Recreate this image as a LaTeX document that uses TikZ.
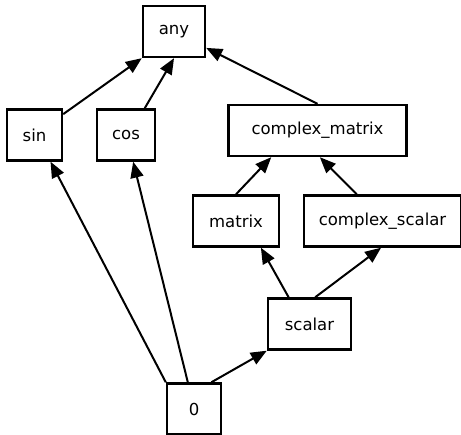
\documentclass[tikz,border=0pt]{standalone}
\usepackage{fontspec}
\setmainfont{DejaVu Sans}
\usepackage{tikz}
\usetikzlibrary{positioning,arrows.meta}
\tikzstyle{type} = [draw, rectangle, line width=2.4pt, inner sep=0pt, minimum height=51pt, font=\fontsize{16.5}{19}\selectfont]
\tikzstyle{isa} = [-{Triangle[length=16pt,width=13pt]}, line width=2pt]

\begin{document}
\begin{tikzpicture}[x=1pt, y=-1pt]
\useasboundingbox (0,0) rectangle (461,435);
\node (any) [type, minimum width=62pt] at (174,31.5) {any};
\node (sin) [type, minimum width=55pt] at (34.5,135) {sin};
\node (cos) [type, minimum width=58pt] at (126,135) {cos};
\node (cmat) [type, minimum width=178pt] at (317.5,130.5) {complex\_matrix};
\node (mat) [type, minimum width=86pt] at (236,221) {matrix};
\node (cscal) [type, minimum width=157pt] at (382.5,221) {complex\_scalar};
\node (scal) [type, minimum width=83pt] at (309.5,324) {scalar};
\node (zero) [type, minimum width=54pt] at (194,409) {0};
\draw[isa] (sin.36) -- (any.south west) ;
\draw[isa] (cos.55) -- (any.south) ;
\draw[isa] (cmat.north) -- (any.-27) ;
\draw[isa] (mat.north) -- (cmat.210) ;
\draw[isa] (cscal.134) -- (cmat.-85) ;
\draw[isa] (scal.128) -- (mat.-47) ;
\draw[isa] (scal.78) -- (cscal.-93) ;
\draw[isa] (zero.57) -- (scal.south west) ;
\draw[isa] (zero.north west) -- (sin.-59) ;
\draw[isa] (zero.103) -- (cos.-75) ;
\end{tikzpicture}
\end{document}
